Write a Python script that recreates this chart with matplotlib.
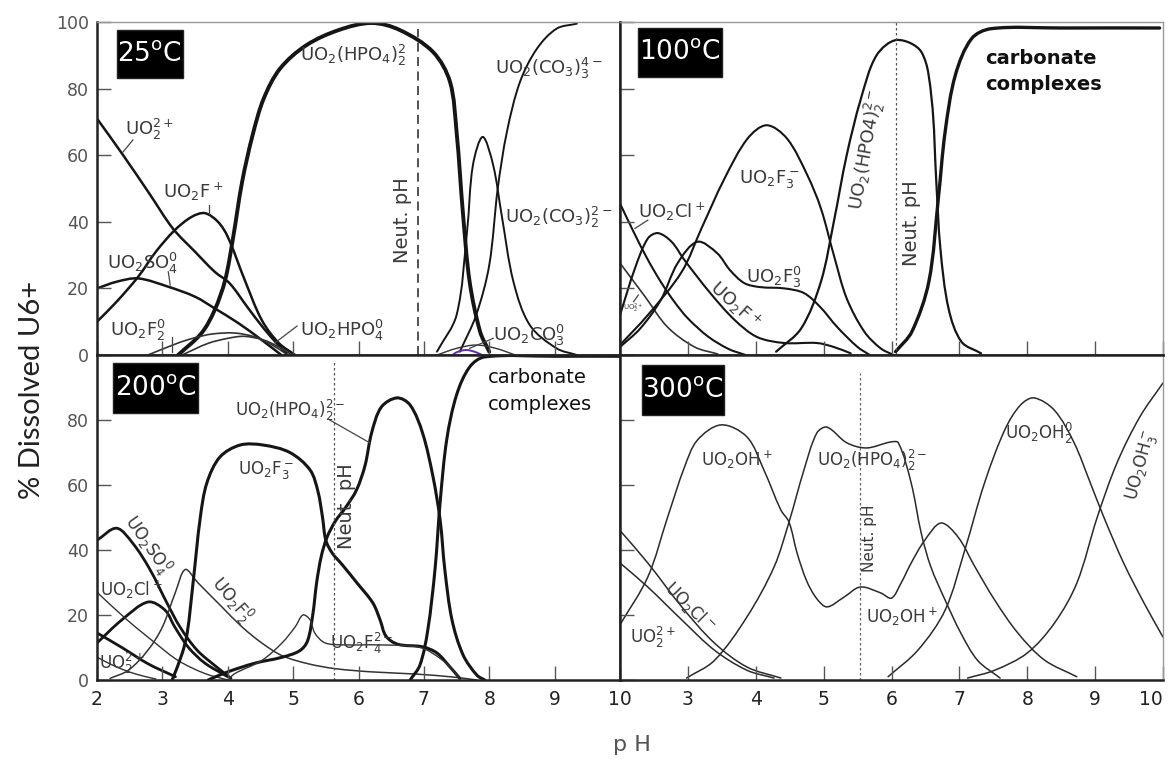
import numpy as np
import matplotlib
matplotlib.use("Agg")
import matplotlib.pyplot as plt
from matplotlib.path import Path
from matplotlib.patches import PathPatch, Rectangle

plt.rcParams['font.family'] = ['DejaVu Sans']
plt.rcParams['mathtext.fontset'] = 'dejavusans'

# ---------------- 25 degC ----------------
t25_uo2_ph = [2.0, 2.4, 2.8, 3.16, 3.5, 3.8, 4.03, 4.3, 4.55, 4.75, 4.9]
t25_uo2_pct = [71, 60, 48.5, 38, 31, 25, 21.5, 14.4, 8, 3.5, 0.5]
t25_uo2f_ph = [2.0, 2.3, 2.63, 2.9, 3.19, 3.45, 3.65, 3.85, 4.0, 4.26, 4.52, 4.78, 5.03]
t25_uo2f_pct = [10, 16, 23.5, 31, 37.5, 41.5, 42.6, 40, 35.5, 22.5, 10.5, 3.6, 0]
t25_so4_ph = [2.0, 2.3, 2.63, 3.09, 3.5, 3.8, 4.16, 4.52, 4.82]
t25_so4_pct = [20, 22, 23, 20.5, 17.5, 14, 9.6, 4.5, 0]
t25_hpo4_ph = [3.24, 3.6, 3.8, 3.96, 4.08, 4.22, 4.38, 4.55, 4.8, 5.2, 5.7, 6.2,
               6.63, 7.14, 7.4, 7.5, 7.6, 7.7, 7.86, 8.0]
t25_hpo4_pct = [0, 6.6, 13.5, 22.5, 35, 52, 66, 77, 86, 93, 97.6, 99.7,
                97.6, 91, 82, 67, 42, 22, 7, 1]
t25_co3_2_ph = [7.2, 7.5, 7.66, 7.75, 7.9, 8.06, 8.19, 8.37, 8.62, 9.03, 9.34]
t25_co3_2_pct = [1, 12, 37, 57, 65.5, 57, 42, 22, 9, 2, 0]
t25_co3_3_ph = [7.55, 7.8, 8.0, 8.13, 8.27, 8.47, 8.73, 9.03, 9.34]
t25_co3_3_pct = [1, 12, 27, 50, 67, 82, 92, 98, 99.5]
t25_co3_1_ph = [7.2, 7.5, 7.8, 8.1, 8.4]
t25_co3_1_pct = [0, 2, 3, 2, 0]
t25_f2_ph = [2.78, 3.24, 3.5, 3.76, 4.1, 4.42, 4.68, 4.88]
t25_f2_pct = [0, 3.6, 5.2, 6.3, 6.6, 5.4, 3, 0.5]
t25_uhpo4_ph = [3.3, 3.7, 4.0, 4.25, 4.55, 4.8, 4.98]
t25_uhpo4_pct = [0, 3.5, 5, 5.6, 4.5, 2.2, 0]
t25_arc_ph = [7.4, 7.5, 7.65, 7.8, 7.95]
t25_arc_pct = [-0.6, 0.8, 1.5, 0.8, -0.6]
t25_neut = 6.91

# ---------------- 100 degC ----------------
t100_cl_ph = [2.0, 2.2, 2.4, 2.6, 2.8, 3.0, 3.3, 3.6, 3.85]
t100_cl_pct = [45.5, 37, 29, 22, 16, 11, 5.5, 1.8, 0]
t100_uo2_ph = [2.0, 2.37, 2.7, 3.1, 3.44]
t100_uo2_pct = [27.6, 17.5, 8.4, 2.4, 0.3]
t100_f_ph = [2.0, 2.22, 2.41, 2.56, 2.76, 2.95, 3.33, 3.69, 4.02, 4.42, 4.9, 5.15, 5.4]
t100_f_pct = [12, 26, 35, 36.6, 34, 28.5, 18.6, 10.5, 5.4, 3.6, 3.6, 2.4, 0.5]
t100_f3n_ph = [2.0, 2.3, 2.6, 2.85, 3.14, 3.43, 3.62, 3.83, 4.06, 4.42, 4.71, 4.95, 5.2, 5.5, 5.68]
t100_f3n_pct = [2.4, 8, 16.5, 27.6, 34, 30.6, 25.5, 21.6, 20.4, 20, 18.6, 14.4, 8.4, 2.4, 0]
t100_f3_ph = [2.0, 2.41, 2.91, 3.2, 3.54, 3.88, 4.16, 4.46, 4.76, 4.96, 5.15, 5.34, 5.6, 5.84, 6.03]
t100_f3_pct = [3, 12, 25, 38, 53, 65, 69, 65, 54, 44, 30, 17, 7, 2, 0]
t100_hpo4_ph = [4.3, 4.67, 4.96, 5.15, 5.34, 5.55, 5.78, 6.08, 6.44, 6.59, 6.66, 6.72, 6.84, 7.03, 7.32]
t100_hpo4_pct = [1, 8, 22, 40, 60, 77, 90, 94.6, 91, 77, 52, 32, 14, 4, 0.5]
t100_carb_ph = [6.06, 6.3, 6.55, 6.69, 6.79, 6.94, 7.18, 7.47, 8.5, 9.95]
t100_carb_pct = [1, 7, 22, 47, 67, 84, 95, 98, 98.2, 98.2]
t100_neut = 6.06

# ---------------- 200 degC ----------------
t200_so4_ph = [2.0, 2.3, 2.55, 2.81, 3.07, 3.27, 3.53, 3.83, 4.05]
t200_so4_pct = [43, 46.7, 42, 34, 23.7, 16.3, 9.2, 4, 0.5]
t200_cl2_ph = [2.0, 2.38, 2.78, 3.04, 3.19, 3.4, 3.65, 4.0]
t200_cl2_pct = [11.4, 18.5, 24, 21.5, 16.3, 10, 5.2, 1]
t200_cl_ph = [2.0, 2.46, 2.89, 3.24, 3.65, 4.0]
t200_cl_pct = [27, 18.5, 11.4, 6, 2, 0]
t200_oh_ph = [2.0, 2.38, 2.78, 3.2]
t200_oh_pct = [14.5, 10, 5, 1]
t200_uo2_ph = [2.0, 2.3, 2.6, 2.9]
t200_uo2_pct = [7, 4, 1.8, 0.3]
t200_f2_ph = [2.2, 2.48, 2.78, 3.0, 3.2, 3.35, 3.54, 3.91, 4.22, 4.52, 4.83, 5.23, 5.64, 6.2, 6.9, 7.5, 7.8]
t200_f2_pct = [0.5, 3, 9.2, 16.3, 27, 34, 30, 22.5, 16.3, 11.4, 7.5, 5, 3.5, 2.5, 1.8, 0.8, 0]
t200_f3_ph = [3.15, 3.3, 3.38, 3.47, 3.58, 3.68, 3.88, 4.19, 4.54, 4.95, 5.26, 5.38, 5.45, 5.5,
              5.6, 5.75, 5.98, 6.22, 6.33, 6.42, 6.6, 6.98, 7.2, 7.4, 7.55]
t200_f3_pct = [0, 8, 14.5, 30, 50, 60.6, 68.6, 72.3, 72.3, 70, 64.6, 58, 50, 43,
               39, 35.5, 29.8, 23.7, 18.5, 13.5, 11, 10.2, 8.3, 4, 0.5]
t200_hpo4_ph = [3.7, 4.0, 4.42, 4.83, 5.1, 5.22, 5.3, 5.36, 5.43, 5.52, 5.65, 5.8, 5.97, 6.1,
                6.2, 6.35, 6.59, 6.79, 6.98, 7.14, 7.25, 7.32, 7.43, 7.6, 7.81, 7.93]
t200_hpo4_pct = [0, 2.5, 5.2, 7, 9, 12, 20, 30, 38, 44, 49, 53, 58.5, 66,
                 76, 84, 86.8, 84.6, 76, 62.5, 49, 34, 18.5, 7.7, 1.5, 0]
t200_carb_ph = [6.79, 6.94, 7.06, 7.17, 7.25, 7.35, 7.5, 7.7, 7.93, 9.0, 10.0]
t200_carb_pct = [0, 4.6, 15.4, 34, 55, 74, 87.7, 96.3, 99.4, 99.6, 99.6]
t200_f4_ph = [4.0, 4.11, 4.52, 4.83, 5.03, 5.15, 5.26, 5.33, 5.49, 5.8, 6.3, 6.94, 7.29, 7.55]
t200_f4_pct = [0, 2, 6, 11.4, 16.3, 20, 18.5, 14.5, 11.4, 10.8, 10.8, 10, 6, 0.6]
t200_neut = 5.62

# ---------------- 300 degC ----------------
t300_oh_ph = [2.0, 2.41, 2.7, 2.95, 3.14, 3.49, 3.87, 4.12, 4.37, 4.49, 4.61, 4.75, 4.9, 5.05,
              5.3, 5.54, 5.84, 6.0, 6.14, 6.29, 6.49, 6.73, 6.98, 7.23, 7.52, 7.86, 8.25, 8.73]
t300_oh_pct = [17, 31.7, 50, 65.5, 73.8, 78.5, 74.8, 64.6, 52.3, 48.6, 39, 30.5, 25, 22.5,
               25.5, 28.6, 26.8, 25.2, 29.8, 36, 43, 48.3, 44, 34.8, 24.6, 14.5, 6.2, 1]
t300_hpo4_ph = [2.98, 3.39, 3.87, 4.27, 4.49, 4.71, 4.9, 5.05, 5.34, 5.63, 5.98, 6.1,
                6.29, 6.44, 6.58, 6.79, 7.02, 7.27, 7.6]
t300_hpo4_pct = [0.6, 6, 19.4, 34.8, 48.6, 64.6, 76, 77.8, 73, 71.4, 73.2, 73,
                 60.6, 45, 34.8, 24.6, 14.5, 6, 0.6]
t300_oh2_ph = [5.95, 6.39, 6.79, 7.08, 7.37, 7.67, 7.9, 8.1, 8.4, 8.69, 8.93, 9.13, 9.42, 9.72, 10.0]
t300_oh2_pct = [1, 9.2, 21.5, 40, 60.6, 77, 84.6, 86.8, 83, 73, 60.6, 50, 36, 23.7, 13.2]
t300_oh3_ph = [7.12, 7.52, 8.0, 8.4, 8.73, 9.03, 9.32, 9.66, 10.0]
t300_oh3_pct = [0.6, 3, 8.3, 17.5, 29.8, 50, 66.7, 81, 91.4]
t300_uo2_ph = [2.0, 2.41, 2.91, 3.39, 3.87, 4.27]
t300_uo2_pct = [36, 28.6, 18.5, 9.2, 3, 0.6]
t300_cl_ph = [2.0, 2.41, 2.91, 3.39, 3.87, 4.37]
t300_cl_pct = [46, 36, 22.5, 11.4, 4, 0.6]
t300_neut = 5.53

y_ticks = [0, 20, 40, 60, 80, 100]
x_ticks = [2, 3, 4, 5, 6, 7, 8, 9, 10]


def smooth_path(xs, ys, xscale=20.0):
    """Chord-length Catmull-Rom curve through the points, as cubic Bezier segments."""
    pts = np.column_stack([xs, ys]).astype(float)
    n = len(pts)
    if n < 3:
        return Path(pts)
    d = np.hypot(np.diff(pts[:, 0]) * xscale, np.diff(pts[:, 1]))
    d = np.maximum(d, 1e-6)
    t = np.concatenate([[0.0], np.cumsum(d)])
    m = np.zeros_like(pts)
    m[0] = (pts[1] - pts[0]) / (t[1] - t[0])
    m[-1] = (pts[-1] - pts[-2]) / (t[-1] - t[-2])
    for i in range(1, n - 1):
        m[i] = (pts[i + 1] - pts[i - 1]) / (t[i + 1] - t[i - 1])
    verts = [pts[0]]
    codes = [Path.MOVETO]
    for i in range(n - 1):
        dt = t[i + 1] - t[i]
        verts += [pts[i] + m[i] * dt / 3.0, pts[i + 1] - m[i + 1] * dt / 3.0, pts[i + 1]]
        codes += [Path.CURVE4] * 3
    return Path(verts, codes)


def curve(ax, xs, ys, lw=1.4, color='#151515', **kw):
    ax.add_patch(PathPatch(smooth_path(xs, ys), fill=False, lw=lw, edgecolor=color,
                           capstyle='round', joinstyle='round', **kw))


def label(ax, x, y, s, size=13, **kw):
    kw.setdefault('ha', 'left')
    kw.setdefault('va', 'center')
    ax.text(x, y, s, fontsize=size, color='#3a3a3a', **kw)


def leader(ax, x0, y0, x1, y1):
    ax.plot([x0, x1], [y0, y1], color='#444', lw=0.9)


def temp_box(ax, x0, y0, w, h, s):
    ax.add_patch(Rectangle((x0, y0), w, h, transform=ax.transAxes, facecolor='black',
                           edgecolor='#222', lw=1, zorder=5))
    ax.text(x0 + w / 2, y0 + h / 2, s, transform=ax.transAxes, ha='center', va='center',
            color='white', fontsize=19, zorder=6)


W, H = 1170, 767
fig = plt.figure(figsize=(W / 100, H / 100), dpi=100)
fig.patch.set_facecolor('white')


def axes_px(x0, x1, y0, y1):
    return fig.add_axes([x0 / W, 1 - y1 / H, (x1 - x0) / W, (y1 - y0) / H])


ax25 = axes_px(97, 620, 22, 355)
ax100 = axes_px(620, 1163, 22, 355)
ax200 = axes_px(97, 620, 355, 680)
ax300 = axes_px(620, 1163, 355, 680)

for ax in (ax25, ax100, ax200, ax300):
    ax.set_xlim(2, 10)
    ax.set_ylim(0, 100)
    ax.set_facecolor('white')
    ax.set_xticks(x_ticks)
    ax.set_yticks(y_ticks)
    ax.tick_params(direction='in', length=10, width=1.0, color='#555',
                   top=False, right=False)
    for side in ('left', 'bottom'):
        ax.spines[side].set_linewidth(1.8)
        ax.spines[side].set_color('#222')
    for side in ('top', 'right'):
        ax.spines[side].set_linewidth(1.0)
        ax.spines[side].set_color('#999')

ax25.spines['right'].set_linewidth(1.8)
ax25.spines['right'].set_color('#222')
ax100.spines['bottom'].set_linewidth(1.8)
ax200.spines['top'].set_linewidth(1.8)
ax200.spines['top'].set_color('#222')
ax200.spines['right'].set_linewidth(1.8)
ax200.spines['right'].set_color('#222')
ax300.spines['top'].set_linewidth(1.8)
ax300.spines['top'].set_color('#222')

# tick labels
ax25.set_xticklabels([])
ax100.set_xticklabels([])
ax100.set_yticklabels([])
ax300.set_yticklabels([])
ax25.set_yticklabels([str(v) for v in y_ticks])
ax200.set_yticklabels([str(v) for v in y_ticks[:-1]] + [''])
ax200.set_xticklabels([str(v) for v in x_ticks])
ax300.set_xticklabels([''] + [str(v) for v in x_ticks[1:]])
for ax in (ax25, ax200):
    ax.tick_params(axis='y', labelsize=12.5, labelcolor='#555', pad=6)
for ax in (ax200, ax300):
    ax.tick_params(axis='x', labelsize=13.5, labelcolor='#222', pad=7)
ax300.get_xticklabels()[-1].set_horizontalalignment('right')

fig.text(32 / W, 1 - 390 / H, '% Dissolved U6+', rotation=90, ha='center', va='center',
         fontsize=21, family=['Lato', 'DejaVu Sans'], color='#222')
fig.text(632 / W, 1 - 745 / H, 'p H', ha='center', va='center', fontsize=16, color='#555')

# ---------------- 25 degC panel ----------------
ax = ax25
curve(ax, t25_uo2_ph, t25_uo2_pct, lw=1.8)
curve(ax, t25_uo2f_ph, t25_uo2f_pct, lw=1.8)
curve(ax, t25_so4_ph, t25_so4_pct, lw=1.8)
curve(ax, t25_hpo4_ph, t25_hpo4_pct, lw=2.8)
curve(ax, t25_co3_2_ph, t25_co3_2_pct, lw=1.4)
curve(ax, t25_co3_3_ph, t25_co3_3_pct, lw=1.4)
curve(ax, t25_co3_1_ph, t25_co3_1_pct, lw=1.0, color='#333')
curve(ax, t25_f2_ph, t25_f2_pct, lw=1.2, color='#333')
curve(ax, t25_uhpo4_ph, t25_uhpo4_pct, lw=1.2, color='#333')
curve(ax, t25_arc_ph, t25_arc_pct, lw=1.4, color='#5a2fa8', clip_on=False, zorder=8)
ax.plot([t25_neut, t25_neut], [0, 98], color='#444', lw=1.3, ls=(0, (5, 3)))
temp_box(ax, 0.038, 0.832, 0.126, 0.144, r'25$^\mathsf{o}$C')
label(ax, 2.43, 67.6, r'UO$_2^{2+}$')
leader(ax, 2.55, 64.6, 2.4, 61)
label(ax, 3.01, 49, r'UO$_2$F$^+$')
leader(ax, 3.71, 45, 3.71, 42.3)
label(ax, 2.15, 27.6, r'UO$_2$SO$_4^0$')
leader(ax, 3.09, 25, 3.12, 21)
label(ax, 2.2, 7.5, r'UO$_2$F$_2^0$')
leader(ax, 3.15, 5.5, 3.15, 1)
label(ax, 5.1, 7.5, r'UO$_2$HPO$_4^0$')
leader(ax, 5.06, 8.7, 4.72, 3.6)
label(ax, 5.1, 90, r'UO$_2$(HPO$_4$)$_2^{2}$')
label(ax, 6.68, 40.5, 'Neut. pH', size=14, rotation=90, ha='center')
label(ax, 8.09, 86, r'UO$_2$(CO$_3$)$_3^{4-}$')
label(ax, 8.24, 41.4, r'UO$_2$(CO$_3$)$_2^{2-}$')
label(ax, 8.06, 6, r'UO$_2$CO$_3^0$')
leader(ax, 8.06, 5, 7.7, 2)

# ---------------- 100 degC panel ----------------
ax = ax100
curve(ax, t100_cl_ph, t100_cl_pct, lw=1.5)
curve(ax, t100_uo2_ph, t100_uo2_pct, lw=1.2, color='#333')
curve(ax, t100_f_ph, t100_f_pct, lw=1.5)
curve(ax, t100_f3n_ph, t100_f3n_pct, lw=1.5)
curve(ax, t100_f3_ph, t100_f3_pct, lw=1.5)
curve(ax, t100_hpo4_ph, t100_hpo4_pct, lw=1.6)
curve(ax, t100_carb_ph, t100_carb_pct, lw=2.4)
ax.plot([t100_neut, t100_neut], [0, 100], color='#555', lw=0.9, ls=(0, (2, 2)))
temp_box(ax, 0.033, 0.835, 0.154, 0.147, r'100$^\mathsf{o}$C')
label(ax, 2.26, 43, r'UO$_2$Cl$^+$')
leader(ax, 2.41, 40.5, 2.22, 38)
label(ax, 3.76, 53, r'UO$_2$F$_3^-$')
label(ax, 3.85, 23.4, r'UO$_2$F$_3^0$')
label(ax, 3.69, 15, r'UO$_2$F$^+$', rotation=-42, ha='center')
label(ax, 2.05, 14, r'UO$_2^{2+}$', size=5)
leader(ax, 2.27, 18, 2.2, 16)
label(ax, 5.64, 61.6, r'UO$_2$(HPO4)$_2^{2-}$', rotation=80, ha='center')
label(ax, 6.3, 39.6, 'Neut. pH', size=14, rotation=90, ha='center')
ax.text(7.38, 92, 'carbonate\ncomplexes', fontsize=14, fontweight='bold', color='#111',
        ha='left', va='top', linespacing=1.5)

# ---------------- 200 degC panel ----------------
ax = ax200
curve(ax, t200_so4_ph, t200_so4_pct, lw=2.0)
curve(ax, t200_cl2_ph, t200_cl2_pct, lw=2.0)
curve(ax, t200_cl_ph, t200_cl_pct, lw=1.0, color='#333')
curve(ax, t200_oh_ph, t200_oh_pct, lw=2.0)
curve(ax, t200_uo2_ph, t200_uo2_pct, lw=1.0, color='#333')
curve(ax, t200_f2_ph, t200_f2_pct, lw=1.1, color='#333')
curve(ax, t200_f3_ph, t200_f3_pct, lw=2.2)
curve(ax, t200_hpo4_ph, t200_hpo4_pct, lw=2.2)
curve(ax, t200_carb_ph, t200_carb_pct, lw=2.2)
curve(ax, t200_f4_ph, t200_f4_pct, lw=1.0, color='#333')
ax.plot([t200_neut, t200_neut], [0, 98], color='#555', lw=0.9, ls=(0, (2, 2)))
temp_box(ax, 0.031, 0.822, 0.163, 0.154, r'200$^\mathsf{o}$C')
label(ax, 4.11, 83, r'UO$_2$(HPO$_4$)$_2^{2-}$', size=12)
leader(ax, 5.56, 80, 6.17, 73)
label(ax, 4.16, 64.6, r'UO$_2$F$_3^-$', size=12)
label(ax, 2.76, 41.5, r'UO$_2$SO$_4^0$', size=12, rotation=-55, ha='center')
label(ax, 2.05, 27.7, r'UO$_2$Cl$^+$', size=12)
label(ax, 4.06, 24.6, r'UO$_2$F$_2^0$', size=12, rotation=-50, ha='center')
label(ax, 2.03, 5.2, r'UO$_2^{2+}$', size=12)
label(ax, 5.56, 11.4, r'UO$_2$F$_4^{2-}$', size=12)
label(ax, 5.82, 53.5, 'Neut. pH', size=14, rotation=90, ha='center')
ax.text(7.98, 96, 'carbonate\ncomplexes', fontsize=14, color='#111',
        ha='left', va='top', linespacing=1.5)

# ---------------- 300 degC panel ----------------
ax = ax300
curve(ax, t300_oh_ph, t300_oh_pct, lw=1.1, color='#2a2a2a')
curve(ax, t300_hpo4_ph, t300_hpo4_pct, lw=1.1, color='#2a2a2a')
curve(ax, t300_oh2_ph, t300_oh2_pct, lw=1.1, color='#2a2a2a')
curve(ax, t300_oh3_ph, t300_oh3_pct, lw=1.1, color='#2a2a2a')
curve(ax, t300_uo2_ph, t300_uo2_pct, lw=1.1, color='#2a2a2a')
curve(ax, t300_cl_ph, t300_cl_pct, lw=1.1, color='#2a2a2a')
ax.plot([t300_neut, t300_neut], [0, 94.5], color='#666', lw=0.9, ls=(0, (2, 2)))
temp_box(ax, 0.040, 0.815, 0.152, 0.154, r'300$^\mathsf{o}$C')
label(ax, 3.2, 67.7, r'UO$_2$OH$^+$', size=12)
label(ax, 4.9, 67.7, r'UO$_2$(HPO$_4$)$_2^{2-}$', size=12)
label(ax, 5.62, 19.4, r'UO$_2$OH$^+$', size=12)
label(ax, 7.67, 76, r'UO$_2$OH$_2^0$', size=12)
label(ax, 9.69, 66, r'UO$_2$OH$_3^-$', size=12, rotation=75, ha='center')
label(ax, 3.02, 22.5, r'UO$_2$Cl$^-$', size=12, rotation=-45, ha='center')
label(ax, 2.15, 13.2, r'UO$_2^{2+}$', size=12)
label(ax, 5.67, 43.7, 'Neut. pH', size=11, rotation=90, ha='center')

fig.savefig('out.png', dpi=100, facecolor='white')
